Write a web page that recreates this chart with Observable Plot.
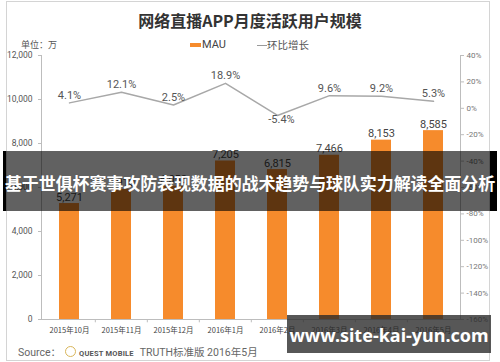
<!DOCTYPE html>
<html>
<head>
<meta charset="utf-8">
<script src="https://cdn.jsdelivr.net/npm/d3@7"></script>
<script src="https://cdn.jsdelivr.net/npm/@observablehq/plot@0.6"></script>
<style>
  html, body { margin: 0; padding: 0; background: #fff; }
  #wrap { position: relative; width: 500px; height: 362px; overflow: hidden; font-family: "Noto Sans CJK SC", Roboto, sans-serif; }
  #wrap svg { position: absolute; left: 0; top: 0; }
  .abs { position: absolute; white-space: nowrap; }
  #frame { position: absolute; left: 6px; top: 1px; width: 482px; height: 358px; border: 1px solid #d4d4d4; }
  #title { left: 0; width: 500px; top: 9px; text-align: center; font-size: 16px; font-weight: 700; color: #333; line-height: 22px; }
  #unit { left: 21px; top: 38px; font-size: 9px; color: #555; line-height: 14px; }
  #leg1sw { left: 190px; top: 43px; width: 11px; height: 4px; background: #F68B2C; }
  #leg1 { left: 202px; top: 38px; font-size: 11px; color: #444; font-family: Roboto, sans-serif; line-height: 14px; }
  #leg2sw { left: 257px; top: 45px; width: 10px; height: 1px; background: #9a9a9a; }
  #leg2 { left: 267px; top: 38px; font-size: 10.5px; color: #555; line-height: 14px; }
  #source { left: 18px; top: 345px; font-size: 10.5px; color: #666; line-height: 15px; font-family: Roboto, "Noto Sans CJK SC", sans-serif; }
  #logo { display: inline-block; width: 9px; height: 9px; border-radius: 50%; border: 1.5px solid #d9b65a; vertical-align: -1px; margin: 0 3px 0 4px; }
  #qm { font-weight: 700; font-size: 7.5px; color: #555; margin-right: 6px; letter-spacing: 0.2px; }
  #band { left: 6px; top: 151px; width: 484px; height: 60px; background: rgba(0,0,0,0.62); }
  #bandL { left: 3px; top: 151px; width: 3px; height: 60px; background: #000; }
  #bandR { left: 490px; top: 151px; width: 7px; height: 60px; background: #000; }
  #bandText { left: 0; width: 500px; top: 170px; text-align: center; color: #fff; font-size: 17px; font-weight: 700; line-height: 26px; letter-spacing: -0.1px; }
  #wm { left: 287px; top: 315px; width: 204px; height: 38px; background: rgba(40,40,40,0.78); }
  #wmText { left: 287px; width: 204px; top: 322px; text-align: center; color: #fff; font-size: 18px; font-weight: 700; line-height: 26px; font-family: "Noto Sans", "Open Sans", sans-serif; }
</style>
</head>
<body>
<div id="wrap"></div>
<script>
const months = ["2015年10月","2015年11月","2015年12月","2016年1月","2016年2月","2016年3月","2016年4月","2016年5月"];
const mau = [5271, 5910, 6058, 7205, 6815, 7466, 8153, 8585];
const growth = [4.1, 12.1, 2.5, 18.9, -5.4, 9.6, 9.2, 5.3];
const leftTicks = [0, 2000, 4000, 6000, 8000, 10000, 12000];
const rightTicks = [-160, -140, -120, -100, -80, -60, -40, -20, 0, 20, 40];

// map percentage axis (-160%..40%) onto the MAU axis (0..12,000)
const pctToY = p => (p + 160) * 60;
const yToPct = v => v / 60 - 160;

const data = months.map((m, i) => ({month: m, mau: mau[i], g: growth[i], gy: pctToY(growth[i])}));
const pos = data.filter(d => d.g >= 0);
const neg = data.filter(d => d.g < 0);

const orange = "#F68B2C";
const fmt = d3.format(",");
const halfStep = (500 - 41 - 40) / months.length / 2;

const chart = Plot.plot({
  width: 500,
  height: 362,
  marginLeft: 41,
  marginRight: 40,
  marginTop: 55,
  marginBottom: 43,
  style: {fontFamily: "Roboto, sans-serif", background: "transparent", overflow: "visible"},
  x: {domain: months, padding: 0, label: null},
  y: {domain: [0, 12000], label: null},
  marks: [
    Plot.frame({anchor: "left", stroke: "#bdbdbd"}),
    Plot.frame({anchor: "right", stroke: "#bdbdbd"}),
    Plot.ruleY([0], {stroke: "#bdbdbd"}),
    Plot.ruleX(months.slice(1), {x: d => d, y1: 0, y2: -150, dx: -halfStep, stroke: "#bdbdbd"}),
    Plot.axisY({ticks: leftTicks, tickFormat: fmt, tickSize: 3, tickPadding: 6, label: null, fontSize: 8.5, stroke: "#bdbdbd", fill: "#555"}),
    Plot.axisY({anchor: "right", ticks: rightTicks.map(pctToY), tickFormat: v => Math.round(yToPct(v)) + "%", tickSize: 3, tickPadding: 3, label: null, fontSize: 8, stroke: "#bdbdbd", fill: "#777"}),
    Plot.axisX({tickSize: 0, tickPadding: 8, label: null, fontSize: 7.5, fill: "#444", fontFamily: "Noto Sans CJK SC"}),
    Plot.barY(data, {x: "month", y: "mau", fill: orange, insetLeft: 16, insetRight: 16}),
    Plot.text(data, {x: "month", y: "mau", text: d => fmt(d.mau), lineAnchor: "bottom", dy: -3, fontSize: 11, fill: "#444"}),
    Plot.line(data, {x: "month", y: "gy", stroke: "#a8a8a8", strokeWidth: 1.5}),
    Plot.text(pos, {x: "month", y: "gy", text: d => d.g.toFixed(1) + "%", lineAnchor: "bottom", dy: -4, fontSize: 11, fill: "#555"}),
    Plot.text(neg, {x: "month", y: "gy", text: d => d.g.toFixed(1) + "%", lineAnchor: "top", dy: 0, dx: 4, fontSize: 11, fill: "#555"})
  ]
});

const wrap = document.getElementById("wrap");
wrap.appendChild(chart);

wrap.insertAdjacentHTML("beforeend", `
  <div id="frame"></div>
  <div class="abs" id="title">网络直播APP月度活跃用户规模</div>
  <div class="abs" id="unit">单位：万</div>
  <div class="abs" id="leg1sw"></div>
  <div class="abs" id="leg1">MAU</div>
  <div class="abs" id="leg2sw"></div>
  <div class="abs" id="leg2">环比增长</div>
  <div class="abs" id="source">Source：<span id="logo"></span><span id="qm">QUEST MOBILE</span>TRUTH标准版 2016年5月</div>
  <div class="abs" id="band"></div>
  <div class="abs" id="bandL"></div>
  <div class="abs" id="bandR"></div>
  <div class="abs" id="bandText">基于世俱杯赛事攻防表现数据的战术趋势与球队实力解读全面分析</div>
  <div class="abs" id="wm"></div>
  <div class="abs" id="wmText">www.site-kai-yun.com</div>
`);
</script>
</body>
</html>
